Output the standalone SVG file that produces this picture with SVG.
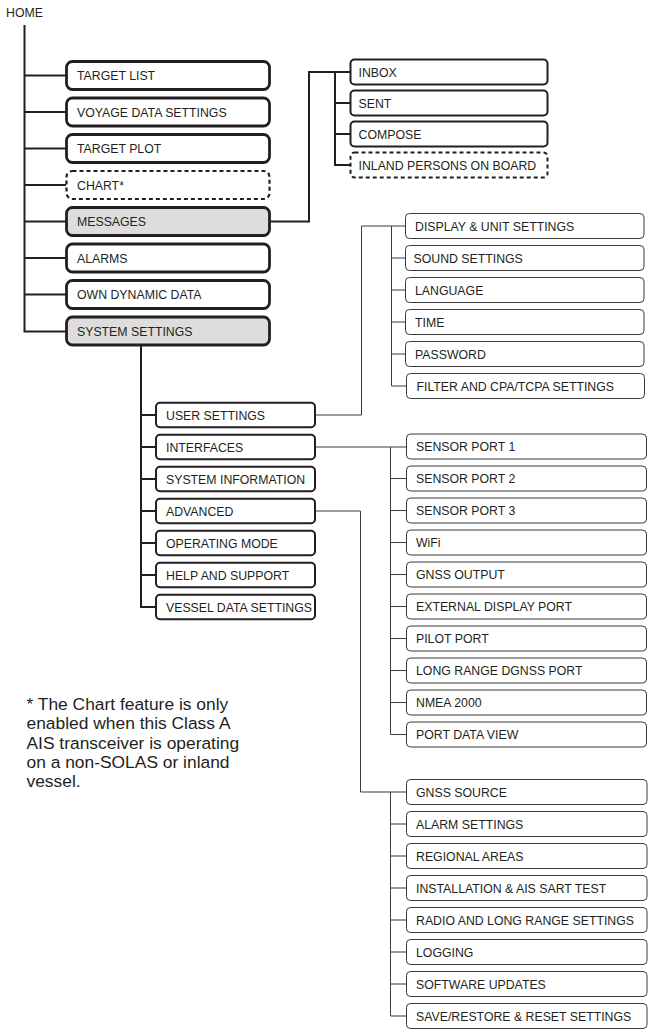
<svg xmlns="http://www.w3.org/2000/svg" width="651" height="1031" viewBox="0 0 651 1031">
<style>
text{font-family:"Liberation Sans",Arial,sans-serif;font-size:12.3px;fill:#231f20}
.main{fill:#fff;stroke:#231f20;stroke-width:2.8}
.gray{fill:#dddddd}
.dash{stroke-dasharray:4 3;stroke-width:2.2}
.mid{fill:#fff;stroke:#231f20;stroke-width:2}
.thin{fill:#fff;stroke:#3a3a3a;stroke-width:1}
.c2{fill:none;stroke:#231f20;stroke-width:2}
.c1{fill:none;stroke:#3a3a3a;stroke-width:1}
.note{font-size:17.4px}
</style>
<text x="6" y="16.5">HOME</text>
<g id="connectors">
<path class="c2" d="M24.5 25V331.5H66M24.5 75.5H66M24.5 112H66M24.5 148.5H66M24.5 185H66M24.5 221.5H66M24.5 258H66M24.5 294.5H66"/>
<path class="c2" d="M271 221.5H309V72H350.5M335 72V165H350.5M335 103H350.5M335 134H350.5"/>
<path class="c2" d="M141 346V607H156M141 415H156M141 447H156M141 479H156M141 511H156M141 543H156M141 575H156"/>
<path class="c1" d="M316 415H361.5V226H405.5M391.5 226V386H406.5M391.5 258H405.5M391.5 290H405.5M391.5 322H405.5M391.5 354H405.5"/>
<path class="c1" d="M316 447H406.5M390.5 447V734.5H406.5M390.5 478.5H406.5M390.5 510.5H406.5M390.5 542.5H406.5M390.5 574.5H406.5M390.5 606.5H406.5M390.5 638.5H406.5M390.5 670.5H406.5M390.5 702.5H406.5"/>
<path class="c1" d="M316 511H360.5V792H406.5M390.5 792V1016H406.5M390.5 824H406.5M390.5 856H406.5M390.5 888H406.5M390.5 920H406.5M390.5 952H406.5M390.5 984H406.5"/>
</g>
<g id="target-list"><rect class="main" x="66.5" y="61.5" width="203" height="28" rx="6"/><text x="77" y="80">TARGET LIST</text></g>
<g id="voyage-data-settings"><rect class="main" x="66.5" y="98" width="203" height="28" rx="6"/><text x="77" y="116.5">VOYAGE DATA SETTINGS</text></g>
<g id="target-plot"><rect class="main" x="66.5" y="134.5" width="203" height="28" rx="6"/><text x="77" y="153">TARGET PLOT</text></g>
<g id="chart"><rect class="main dash" x="66.5" y="171" width="203" height="28" rx="6"/><text x="77" y="189.5">CHART*</text></g>
<g id="messages"><rect class="main gray" x="66.5" y="207.5" width="203" height="28" rx="6"/><text x="77" y="226">MESSAGES</text></g>
<g id="alarms"><rect class="main" x="66.5" y="244" width="203" height="28" rx="6"/><text x="77" y="262.5">ALARMS</text></g>
<g id="own-dynamic-data"><rect class="main" x="66.5" y="280.5" width="203" height="28" rx="6"/><text x="77" y="299">OWN DYNAMIC DATA</text></g>
<g id="system-settings"><rect class="main gray" x="66.5" y="317" width="203" height="28" rx="6"/><text x="77" y="335.5">SYSTEM SETTINGS</text></g>
<g id="inbox"><rect class="mid" x="350.5" y="59.5" width="197" height="25" rx="4"/><text x="358.5" y="76.5">INBOX</text></g>
<g id="sent"><rect class="mid" x="350.5" y="90.5" width="197" height="25" rx="4"/><text x="358.5" y="107.5">SENT</text></g>
<g id="compose"><rect class="mid" x="350.5" y="121.5" width="197" height="25" rx="4"/><text x="358.5" y="138.5">COMPOSE</text></g>
<g id="inland-persons-on-board"><rect class="mid dash" x="350.5" y="152.5" width="197" height="25" rx="4"/><text x="358.5" y="169.5">INLAND PERSONS ON BOARD</text></g>
<g id="user-settings"><rect class="mid gray" x="156" y="402.7" width="159" height="24.6" rx="4"/><text x="166" y="419.5">USER SETTINGS</text></g>
<g id="interfaces"><rect class="mid gray" x="156" y="434.7" width="159" height="24.6" rx="4"/><text x="166" y="451.5">INTERFACES</text></g>
<g id="system-information"><rect class="mid" x="156" y="466.7" width="159" height="24.6" rx="4"/><text x="166" y="483.5">SYSTEM INFORMATION</text></g>
<g id="advanced"><rect class="mid gray" x="156" y="498.7" width="159" height="24.6" rx="4"/><text x="166" y="515.5">ADVANCED</text></g>
<g id="operating-mode"><rect class="mid" x="156" y="530.7" width="159" height="24.6" rx="4"/><text x="166" y="547.5">OPERATING MODE</text></g>
<g id="help-and-support"><rect class="mid" x="156" y="562.7" width="159" height="24.6" rx="4"/><text x="166" y="579.5">HELP AND SUPPORT</text></g>
<g id="vessel-data-settings"><rect class="mid" x="156" y="594.7" width="159" height="24.6" rx="4"/><text x="166" y="611.5">VESSEL DATA SETTINGS</text></g>
<g id="display-unit-settings"><rect class="thin" x="405.5" y="213.5" width="238.5" height="25" rx="4"/><text x="415" y="230.5">DISPLAY &amp; UNIT SETTINGS</text></g>
<g id="sound-settings"><rect class="thin" x="405.5" y="245.5" width="238.5" height="25" rx="4"/><text x="413.5" y="262.5">SOUND SETTINGS</text></g>
<g id="language"><rect class="thin" x="405.5" y="277.5" width="238.5" height="25" rx="4"/><text x="415" y="294.5">LANGUAGE</text></g>
<g id="time"><rect class="thin" x="405.5" y="309.5" width="238.5" height="25" rx="4"/><text x="415" y="326.5">TIME</text></g>
<g id="password"><rect class="thin" x="405.5" y="341.5" width="238.5" height="25" rx="4"/><text x="415" y="358.5">PASSWORD</text></g>
<g id="filter-cpa-tcpa-settings"><rect class="thin" x="406.5" y="373.5" width="238" height="25" rx="4"/><text x="416.5" y="390.5">FILTER AND CPA/TCPA SETTINGS</text></g>
<g id="sensor-port-1"><rect class="thin" x="406.5" y="434" width="240" height="25" rx="4"/><text x="416" y="451">SENSOR PORT 1</text></g>
<g id="sensor-port-2"><rect class="thin" x="406.5" y="466" width="240" height="25" rx="4"/><text x="416" y="483">SENSOR PORT 2</text></g>
<g id="sensor-port-3"><rect class="thin" x="406.5" y="498" width="240" height="25" rx="4"/><text x="416" y="515">SENSOR PORT 3</text></g>
<g id="wifi"><rect class="thin" x="406.5" y="530" width="240" height="25" rx="4"/><text x="416" y="547">WiFi</text></g>
<g id="gnss-output"><rect class="thin" x="406.5" y="562" width="240" height="25" rx="4"/><text x="416" y="579">GNSS OUTPUT</text></g>
<g id="external-display-port"><rect class="thin" x="406.5" y="594" width="240" height="25" rx="4"/><text x="416" y="611">EXTERNAL DISPLAY PORT</text></g>
<g id="pilot-port"><rect class="thin" x="406.5" y="626" width="240" height="25" rx="4"/><text x="416" y="643">PILOT PORT</text></g>
<g id="long-range-dgnss-port"><rect class="thin" x="406.5" y="658" width="240" height="25" rx="4"/><text x="416" y="675">LONG RANGE DGNSS PORT</text></g>
<g id="nmea-2000"><rect class="thin" x="406.5" y="690" width="240" height="25" rx="4"/><text x="416" y="707">NMEA 2000</text></g>
<g id="port-data-view"><rect class="thin" x="406.5" y="722" width="240" height="25" rx="4"/><text x="416" y="739">PORT DATA VIEW</text></g>
<g id="gnss-source"><rect class="thin" x="406.5" y="779.5" width="240.5" height="25" rx="4"/><text x="416" y="796.5">GNSS SOURCE</text></g>
<g id="alarm-settings"><rect class="thin" x="406.5" y="811.5" width="240.5" height="25" rx="4"/><text x="416" y="828.5">ALARM SETTINGS</text></g>
<g id="regional-areas"><rect class="thin" x="406.5" y="843.5" width="240.5" height="25" rx="4"/><text x="416" y="860.5">REGIONAL AREAS</text></g>
<g id="installation-ais-sart-test"><rect class="thin" x="406.5" y="875.5" width="240.5" height="25" rx="4"/><text x="416" y="892.5">INSTALLATION &amp; AIS SART TEST</text></g>
<g id="radio-long-range-settings"><rect class="thin" x="406.5" y="907.5" width="240.5" height="25" rx="4"/><text x="416" y="924.5">RADIO AND LONG RANGE SETTINGS</text></g>
<g id="logging"><rect class="thin" x="406.5" y="939.5" width="240.5" height="25" rx="4"/><text x="416" y="956.5">LOGGING</text></g>
<g id="software-updates"><rect class="thin" x="406.5" y="971.5" width="240.5" height="25" rx="4"/><text x="416" y="988.5">SOFTWARE UPDATES</text></g>
<g id="save-restore-reset-settings"><rect class="thin" x="406.5" y="1003.5" width="240.5" height="25" rx="4"/><text x="416" y="1020.5">SAVE/RESTORE &amp; RESET SETTINGS</text></g>
<g id="footnote">
<text class="note" x="26.5" y="710">* The Chart feature is only</text>
<text class="note" x="26.5" y="729.3">enabled when this Class A</text>
<text class="note" x="26.5" y="748.6">AIS transceiver is operating</text>
<text class="note" x="26.5" y="767.9">on a non-SOLAS or inland</text>
<text class="note" x="26.5" y="787.2">vessel.</text>
</g>
</svg>
